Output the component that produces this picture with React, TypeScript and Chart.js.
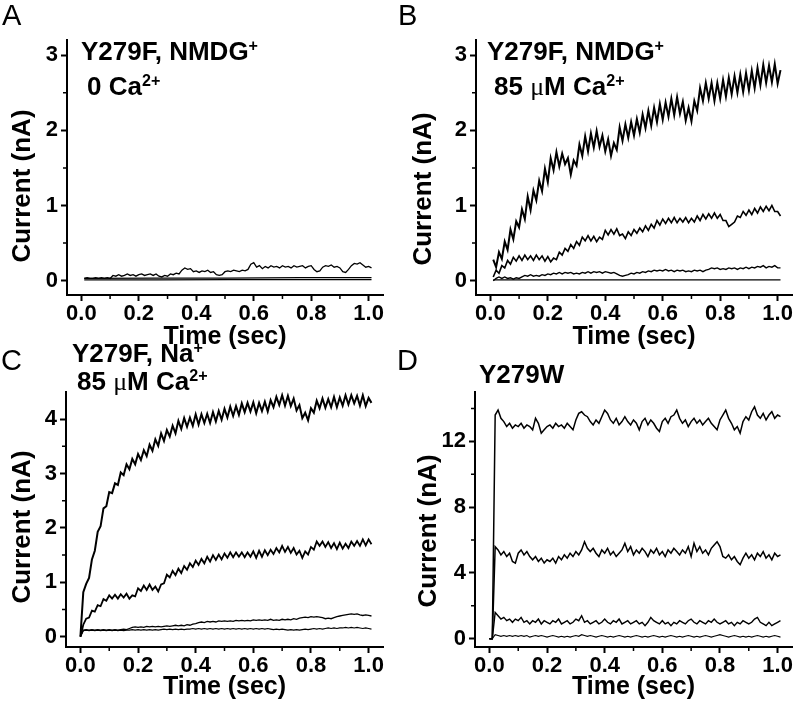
import React, { useEffect, useRef } from 'react';
import { Chart, registerables } from 'chart.js';

Chart.register(...registerables);

const FONT = "'Liberation Sans', Arial, Helvetica, sans-serif";

// ---------- data ----------
const timeSec = [
  0, 0.01, 0.02, 0.03, 0.04, 0.05, 0.06, 0.07, 0.08, 0.09,
  0.1, 0.11, 0.12, 0.13, 0.14, 0.15, 0.16, 0.17, 0.18, 0.19,
  0.2, 0.21, 0.22, 0.23, 0.24, 0.25, 0.26, 0.27, 0.28, 0.29,
  0.3, 0.31, 0.32, 0.33, 0.34, 0.35, 0.36, 0.37, 0.38, 0.39,
  0.4, 0.41, 0.42, 0.43, 0.44, 0.45, 0.46, 0.47, 0.48, 0.49,
  0.5, 0.51, 0.52, 0.53, 0.54, 0.55, 0.56, 0.57, 0.58, 0.59,
  0.6, 0.61, 0.62, 0.63, 0.64, 0.65, 0.66, 0.67, 0.68, 0.69,
  0.7, 0.71, 0.72, 0.73, 0.74, 0.75, 0.76, 0.77, 0.78, 0.79,
  0.8, 0.81, 0.82, 0.83, 0.84, 0.85, 0.86, 0.87, 0.88, 0.89,
  0.9, 0.91, 0.92, 0.93, 0.94, 0.95, 0.96, 0.97, 0.98, 0.99,
  1.0, 1.01,
];
const flatTime = [0.01, 0.26, 0.51, 0.76, 1.01];

// Panel A: Y279F, NMDG+, 0 Ca2+
const aTrace = [
  null,
  0.03, 0.04, 0.03, 0.03, 0.04, 0.03, 0.04, 0.03, 0.04, 0.03,
  0.07, 0.06, 0.08, 0.06, 0.07, 0.09, 0.07, 0.08, 0.06, 0.08,
  0.09, 0.07, 0.08, 0.09, 0.07, 0.09, 0.06, 0.05, 0.07, 0.06,
  0.09, 0.08, 0.1, 0.09, 0.14, 0.17, 0.15, 0.16, 0.12, 0.13,
  0.11, 0.13, 0.12, 0.14, 0.11, 0.12, 0.08, 0.07, 0.08, 0.12,
  0.13, 0.12, 0.14, 0.13, 0.12, 0.14, 0.13, 0.15, 0.22, 0.24,
  0.18, 0.2, 0.16, 0.19, 0.17, 0.2, 0.18, 0.19, 0.17, 0.2,
  0.18, 0.19, 0.17, 0.2, 0.18, 0.19, 0.2, 0.17, 0.19, 0.2,
  0.15, 0.12, 0.13, 0.18, 0.2, 0.19, 0.21, 0.18, 0.19, 0.17,
  0.12, 0.11, 0.15, 0.2, 0.23, 0.22, 0.24, 0.21, 0.18, 0.19, 0.17,
];
const aFlatHigh = [0.03, 0.035, 0.035, 0.04, 0.04];
const aFlatLow = [0.012, 0.012, 0.014, 0.014, 0.014];

// Panel B: Y279F, NMDG+, 85 uM Ca2+
const bTop = [
  null,
  0.28, 0.18, 0.38, 0.29, 0.52, 0.41, 0.68, 0.55, 0.79, 0.71,
  0.95, 0.82, 1.12, 0.94, 1.2, 1.07, 1.33, 1.19, 1.49, 1.31,
  1.63, 1.47, 1.71, 1.52, 1.69, 1.55, 1.63, 1.41, 1.6, 1.53,
  1.81, 1.66, 1.92, 1.72, 1.96, 1.77, 1.99, 1.78, 1.93, 1.72,
  1.88, 1.66, 1.83, 1.74, 2.04, 1.86, 2.08, 1.9, 2.11, 1.93,
  2.15, 1.97, 2.21, 2.03, 2.26, 2.06, 2.3, 2.11, 2.35, 2.14,
  2.37, 2.18, 2.42, 2.2, 2.44, 2.22, 2.38, 2.13, 2.3, 2.12,
  2.39, 2.26, 2.56, 2.39, 2.63, 2.42, 2.63, 2.39, 2.63, 2.42,
  2.67, 2.45, 2.7, 2.48, 2.72, 2.5, 2.74, 2.51, 2.76, 2.53,
  2.79, 2.56, 2.83, 2.6, 2.87, 2.63, 2.86, 2.64, 2.88, 2.62, 2.8,
];
const bMid = [
  null,
  0.05, 0.14, 0.1, 0.2, 0.17, 0.27, 0.22, 0.31, 0.26, 0.33,
  0.27, 0.34, 0.28, 0.33, 0.27, 0.34, 0.28, 0.33, 0.26, 0.32,
  0.25, 0.3, 0.28, 0.38, 0.34, 0.43, 0.39, 0.48, 0.43, 0.52,
  0.47, 0.58, 0.53, 0.6, 0.53, 0.59, 0.52, 0.58, 0.55, 0.67,
  0.61, 0.68, 0.62, 0.69, 0.6, 0.62, 0.56, 0.65, 0.6, 0.68,
  0.63, 0.7, 0.65, 0.73, 0.67, 0.75, 0.7, 0.8, 0.74, 0.82,
  0.76, 0.83, 0.77, 0.84, 0.77, 0.83, 0.78, 0.84, 0.77, 0.83,
  0.78, 0.86, 0.8, 0.88, 0.82, 0.89, 0.83, 0.9, 0.83, 0.88,
  0.8, 0.8, 0.72, 0.75, 0.78, 0.86, 0.84, 0.92, 0.87, 0.94,
  0.88, 0.96, 0.9, 0.98, 0.92, 0.99, 0.93, 1.0, 0.92, 0.92, 0.86,
];
const bLow = [
  null,
  0.0, 0.03, 0.05, 0.03, 0.05, 0.03, 0.04, 0.02, 0.04, 0.03,
  0.05, 0.07, 0.06, 0.08, 0.06, 0.07, 0.06, 0.08, 0.07, 0.09,
  0.08, 0.1, 0.09, 0.11, 0.09, 0.11, 0.1, 0.11, 0.09, 0.1,
  0.09, 0.11, 0.1, 0.12, 0.1, 0.12, 0.11, 0.12, 0.1, 0.12,
  0.11, 0.1, 0.11, 0.09, 0.07, 0.06, 0.07, 0.08, 0.1, 0.09,
  0.11, 0.1, 0.12, 0.11, 0.13, 0.12, 0.14, 0.13, 0.14, 0.13,
  0.15, 0.13, 0.14, 0.12, 0.14, 0.13, 0.14, 0.12, 0.13, 0.12,
  0.14, 0.13, 0.14, 0.12, 0.14, 0.15, 0.17, 0.16, 0.17, 0.15,
  0.16, 0.15, 0.17, 0.16, 0.17, 0.15, 0.17, 0.16, 0.18, 0.16,
  0.18, 0.17, 0.19, 0.18, 0.2, 0.17, 0.19, 0.18, 0.2, 0.17, 0.17,
];
const bBase = [0.01, 0.01, 0.01, 0.01, 0.01];

// Panel C: Y279F, Na+, 85 uM Ca2+
const cTop = [
  0,
  0.82, 0.97, 1.08, 1.42, 1.58, 1.93, 2.03, 2.36, 2.4, 2.66,
  2.64, 2.82, 2.79, 3.02, 2.97, 3.17, 3.08, 3.27, 3.17, 3.36,
  3.25, 3.43, 3.32, 3.53, 3.42, 3.63, 3.51, 3.74, 3.6, 3.8,
  3.68, 3.88, 3.74, 3.97, 3.82, 4.02, 3.86, 4.03, 3.88, 4.09,
  3.9, 4.09, 3.93, 4.1, 3.93, 4.13, 3.96, 4.15, 3.99, 4.19,
  4.03, 4.23, 4.06, 4.24, 4.08, 4.29, 4.13, 4.3, 4.14, 4.31,
  4.11, 4.3, 4.15, 4.32, 4.14, 4.35, 4.22, 4.41, 4.26, 4.44,
  4.25, 4.43, 4.24, 4.38, 4.16, 4.26, 4.02, 4.12, 3.98, 4.2,
  4.12, 4.34, 4.2, 4.38, 4.21, 4.37, 4.22, 4.41, 4.22, 4.4,
  4.25, 4.44, 4.27, 4.44, 4.29, 4.43, 4.25, 4.44, 4.24, 4.39, 4.3,
];
const cMid = [
  0,
  0.22, 0.33, 0.35, 0.48, 0.46, 0.58, 0.56, 0.69, 0.66, 0.76,
  0.7, 0.77, 0.7, 0.78, 0.72, 0.79, 0.7, 0.76, 0.74, 0.89,
  0.84, 0.94, 0.86, 0.96, 0.86, 0.92, 0.83, 0.96, 0.98, 1.14,
  1.09, 1.21, 1.13, 1.25, 1.17, 1.3, 1.23, 1.35, 1.28, 1.4,
  1.32, 1.43, 1.35, 1.47, 1.38, 1.5, 1.41, 1.51, 1.42, 1.53,
  1.45, 1.55, 1.46, 1.55, 1.47, 1.55, 1.46, 1.55, 1.47, 1.57,
  1.45, 1.58, 1.47, 1.59, 1.5, 1.6, 1.52, 1.63, 1.55, 1.67,
  1.56, 1.65, 1.54, 1.63, 1.51, 1.58, 1.45, 1.57, 1.51, 1.65,
  1.6, 1.75, 1.67, 1.75, 1.65, 1.74, 1.63, 1.72, 1.61, 1.73,
  1.62, 1.71, 1.63, 1.75, 1.67, 1.76, 1.67, 1.79, 1.68, 1.79, 1.7,
];
const cLowRising = [
  0,
  0.12, 0.13, 0.12, 0.13, 0.12, 0.13, 0.12, 0.13, 0.12, 0.13,
  0.12, 0.13, 0.12, 0.13, 0.14, 0.13, 0.15, 0.17, 0.18, 0.17,
  0.18, 0.17, 0.19, 0.18, 0.19, 0.18, 0.19, 0.18, 0.19, 0.2,
  0.19, 0.2, 0.21, 0.2, 0.21, 0.2, 0.22, 0.21, 0.23, 0.24,
  0.26, 0.27, 0.26, 0.28, 0.27, 0.28, 0.27, 0.29, 0.28, 0.29,
  0.28, 0.29, 0.28, 0.3, 0.29, 0.3, 0.29, 0.3, 0.29, 0.31,
  0.3, 0.31, 0.3, 0.31, 0.3, 0.32, 0.3, 0.31, 0.3, 0.32,
  0.31, 0.32, 0.31, 0.33, 0.32, 0.34, 0.35, 0.36, 0.35, 0.37,
  0.36, 0.37, 0.36, 0.35, 0.33, 0.34, 0.33, 0.35, 0.37, 0.38,
  0.39, 0.4, 0.41, 0.42, 0.41, 0.42, 0.4, 0.39, 0.4, 0.39, 0.38,
];
const cLowFlat = [
  0,
  0.11, 0.12, 0.11, 0.12, 0.11, 0.12, 0.11, 0.12, 0.11, 0.12,
  0.11, 0.12, 0.11, 0.12, 0.11, 0.12, 0.12, 0.13, 0.12, 0.13,
  0.12, 0.13, 0.12, 0.13, 0.12, 0.13, 0.12, 0.13, 0.14, 0.13,
  0.14, 0.13, 0.14, 0.13, 0.14, 0.13, 0.14, 0.14, 0.15, 0.14,
  0.15, 0.14, 0.15, 0.14, 0.15, 0.14, 0.15, 0.14, 0.15, 0.14,
  0.15, 0.14, 0.15, 0.14, 0.15, 0.14, 0.15, 0.14, 0.15, 0.14,
  0.15, 0.14, 0.15, 0.14, 0.15, 0.14, 0.13, 0.14, 0.13, 0.14,
  0.13, 0.12, 0.13, 0.12, 0.13, 0.12, 0.13, 0.14, 0.13, 0.14,
  0.15, 0.14, 0.15, 0.14, 0.15, 0.16, 0.15, 0.16, 0.15, 0.16,
  0.16, 0.17, 0.16, 0.17, 0.16, 0.17, 0.16, 0.15, 0.16, 0.15, 0.14,
];

// Panel D: Y279W
const dTop = [
  0, 0,
  13.6, 13.9, 13.4, 13.2, 12.9, 13.1, 12.8, 13.0, 12.9, 13.1,
  12.8, 13.0, 12.9, 12.7, 13.4, 13.1, 12.5, 12.7, 12.9, 13.0,
  12.8, 13.1, 12.9, 13.0, 12.8, 13.1, 12.9, 12.7, 13.3, 13.7,
  13.8, 13.6, 13.5, 13.2, 13.0, 13.3, 13.1, 13.5, 13.9, 13.7,
  13.3, 13.1, 13.4, 13.0, 13.2, 13.5, 13.2, 13.0, 13.3, 13.1,
  12.7, 13.2, 13.4, 13.0, 13.3, 13.1, 12.8, 12.6, 13.2, 13.4,
  13.1, 13.5, 13.6, 13.9, 13.4, 13.1, 13.3, 12.9, 13.2, 13.4,
  13.1, 13.3, 13.0, 13.2, 13.4, 13.1, 12.9, 12.7, 13.3, 13.6,
  13.9, 13.4, 13.1, 12.7, 12.9, 12.5, 13.2, 13.5, 13.3, 13.8,
  14.1, 13.6, 13.4, 13.7, 13.3, 13.6, 13.8, 13.4, 13.6, 13.5,
];
const dMid = [
  0, 0,
  5.6, 5.4, 5.1, 5.3, 5.0, 5.2, 4.7, 4.6, 5.2, 5.4,
  5.1, 5.3, 5.0, 4.8, 5.0, 4.7, 4.9, 4.6, 4.8, 4.7,
  4.9, 4.6, 5.0, 4.8, 5.1, 4.9, 5.2, 5.0, 5.3, 5.1,
  5.4, 5.9, 5.5, 5.3, 5.5, 5.2, 5.0, 5.4, 5.2, 5.5,
  5.1, 5.3, 5.0, 5.2, 5.4, 5.8, 5.3, 5.6, 5.1, 5.4,
  5.2, 5.5, 5.3, 5.0, 5.4, 5.2, 5.5, 5.1, 5.3, 5.0,
  5.4, 5.2, 5.5, 5.3, 5.1, 5.4, 5.2, 5.6, 5.0, 5.8,
  5.3, 5.6, 5.2, 5.4, 5.1, 5.5, 5.7, 5.9, 5.6, 5.0,
  4.9, 5.1, 4.8, 5.0, 4.7, 4.5, 4.9, 5.2, 4.9, 5.1,
  4.8, 5.2, 5.0, 5.3, 4.9, 5.1, 4.8, 5.2, 5.0, 5.1,
];
const dLow = [
  0, 0,
  1.6, 1.4, 1.2, 1.3, 1.1, 1.2, 1.0, 1.2, 1.1, 1.3,
  1.0, 1.1, 0.9, 1.1, 1.0, 1.2, 0.9, 1.1, 1.0, 0.9,
  1.1, 1.0, 1.2, 0.9, 1.0, 1.1, 0.9, 1.0, 1.2, 1.1,
  1.4, 1.0, 1.1, 0.9, 1.0, 1.1, 0.9, 1.0, 1.2, 1.0,
  0.9, 1.1, 1.0, 1.2, 0.9, 1.0, 1.1, 0.9, 1.0, 1.1,
  0.9, 1.0, 0.8, 1.0, 1.3, 1.1, 1.0, 0.9, 1.1, 0.9,
  1.0, 0.8, 1.0, 0.9, 1.1, 1.0, 0.9, 1.1, 1.2, 1.0,
  0.9, 1.1, 1.0, 0.9, 1.1, 1.0, 1.2, 1.0, 0.9, 1.0,
  1.1, 0.9, 1.0, 0.8, 1.0, 0.9, 1.1, 1.0, 0.9, 1.0,
  1.2, 1.3, 1.0, 0.9, 0.8, 1.0, 0.8, 0.9, 1.0, 1.1,
];
const dBase = [
  0, 0,
  0.25, 0.2, 0.15, 0.2, 0.15, 0.2, 0.15, 0.2, 0.15, 0.2,
  0.15, 0.2, 0.1, 0.15, 0.2, 0.15, 0.2, 0.15, 0.1, 0.15,
  0.2, 0.15, 0.1, 0.15, 0.1, 0.15, 0.1, 0.15, 0.2, 0.15,
  0.25, 0.2, 0.15, 0.2, 0.15, 0.1, 0.15, 0.2, 0.15, 0.1,
  0.15, 0.1, 0.15, 0.2, 0.15, 0.1, 0.15, 0.1, 0.15, 0.2,
  0.15, 0.1, 0.15, 0.1, 0.15, 0.2, 0.15, 0.1, 0.15, 0.1,
  0.15, 0.2, 0.15, 0.1, 0.15, 0.1, 0.15, 0.2, 0.15, 0.1,
  0.15, 0.1, 0.15, 0.2, 0.15, 0.1, 0.15, 0.2, 0.25, 0.2,
  0.15, 0.1, 0.15, 0.2, 0.15, 0.1, 0.15, 0.1, 0.15, 0.1,
  0.15, 0.2, 0.15, 0.1, 0.15, 0.1, 0.15, 0.2, 0.15, 0.1,
];

// ---------- ticks ----------
const xMajorTicks = [0, 0.2, 0.4, 0.6, 0.8, 1.0];
const xMinorTicks = [0.1, 0.3, 0.5, 0.7, 0.9];
const yTicksAB = [0, 1, 2, 3];
const yMinorAB = [0.5, 1.5, 2.5];
const yTicksC = [0, 1, 2, 3, 4];
const yMinorC = [0.5, 1.5, 2.5, 3.5];
const yTicksD = [0, 4, 8, 12];
const yMinorD = [2, 6, 10, 14];

type Pt = { x: number; y: number | null };
const toPoints = (t: number[], v: (number | null)[]): Pt[] => v.map((y, i) => ({ x: t[i], y }));

const minorTickPlugin = {
  id: 'minorTicks',
  afterDraw(chart: any, _args: any, opts: any) {
    const ctx = chart.ctx;
    const xs = chart.scales.x;
    const ys = chart.scales.y;
    ctx.save();
    ctx.strokeStyle = '#000';
    ctx.lineWidth = 1.5;
    ctx.beginPath();
    (opts.x || []).forEach((v: number) => {
      const px = xs.getPixelForValue(v);
      ctx.moveTo(px, xs.top);
      ctx.lineTo(px, xs.top + 4);
    });
    (opts.y || []).forEach((v: number) => {
      const py = ys.getPixelForValue(v);
      ctx.moveTo(ys.right, py);
      ctx.lineTo(ys.right - 4, py);
    });
    ctx.stroke();
    ctx.restore();
  },
};

type PanelCfg = {
  left: number; top: number; w: number; h: number;
  padTop: number; padRight: number; yW: number; xH: number;
  yMin: number; yMax: number; yTicks: number[]; yMinor: number[];
  titlePad: number; series: Pt[][]; widths: number[];
};

const panels: PanelCfg[] = [
  {
    left: 0, top: 0, w: 398, h: 352, padTop: 40, padRight: 15, yW: 67, xH: 57,
    yMin: -0.19, yMax: 3.2, yTicks: yTicksAB, yMinor: yMinorAB, titlePad: 0,
    series: [toPoints(flatTime, aFlatLow), toPoints(flatTime, aFlatHigh), toPoints(timeSec, aTrace)],
    widths: [1.2, 1.2, 1.3],
  },
  {
    left: 398, top: 0, w: 398, h: 352, padTop: 40, padRight: 4, yW: 78, xH: 57,
    yMin: -0.19, yMax: 3.2, yTicks: yTicksAB, yMinor: yMinorAB, titlePad: 0,
    series: [toPoints(flatTime, bBase), toPoints(timeSec, bLow), toPoints(timeSec, bMid), toPoints(timeSec, bTop)],
    widths: [1.2, 1.4, 1.6, 2.0],
  },
  {
    left: 0, top: 340, w: 398, h: 365, padTop: 52, padRight: 15, yW: 66, xH: 58,
    yMin: -0.19, yMax: 4.5, yTicks: yTicksC, yMinor: yMinorC, titlePad: 3,
    series: [toPoints(timeSec, cLowFlat), toPoints(timeSec, cLowRising), toPoints(timeSec, cMid), toPoints(timeSec, cTop)],
    widths: [1.2, 1.3, 1.8, 2.0],
  },
  {
    left: 398, top: 340, w: 398, h: 365, padTop: 52, padRight: 4, yW: 77, xH: 58,
    yMin: -0.5, yMax: 15, yTicks: yTicksD, yMinor: yMinorD, titlePad: 3,
    series: [toPoints(timeSec, dBase), toPoints(timeSec, dLow), toPoints(timeSec, dMid), toPoints(timeSec, dTop)],
    widths: [1.1, 1.4, 1.5, 1.5],
  },
];

function Panel({ cfg }: { cfg: PanelCfg }) {
  const ref = useRef<HTMLCanvasElement>(null);
  useEffect(() => {
    const tickFont = { family: FONT, size: 22, weight: 'bold' as const };
    const gridOpts = { display: true, drawOnChartArea: false, drawTicks: true, tickLength: 6, tickWidth: 2, tickColor: '#000' };
    const chart = new Chart(ref.current as HTMLCanvasElement, {
      type: 'line',
      data: {
        datasets: cfg.series.map((s, i) => ({
          data: s as any,
          borderColor: '#000',
          borderWidth: cfg.widths[i],
          pointRadius: 0,
          tension: 0,
          fill: false,
          spanGaps: false,
          borderJoinStyle: 'miter' as const,
        })),
      },
      options: {
        responsive: false,
        maintainAspectRatio: false,
        animation: false,
        events: [],
        layout: { padding: { top: cfg.padTop, right: cfg.padRight, left: 0, bottom: 0 } },
        plugins: {
          legend: { display: false },
          tooltip: { enabled: false },
          minorTicks: { x: xMinorTicks, y: cfg.yMinor },
        } as any,
        scales: {
          x: {
            type: 'linear',
            min: -0.05,
            max: 1.05,
            afterFit: (s: any) => { s.height = cfg.xH; },
            afterBuildTicks: (s: any) => { s.ticks = xMajorTicks.map((v) => ({ value: v })); },
            ticks: {
              callback: (v: any) => Number(v).toFixed(1),
              font: tickFont, color: '#000', padding: 0, maxRotation: 0, autoSkip: false,
            },
            grid: gridOpts,
            border: { display: true, color: '#000', width: 2 },
            title: {
              display: true, text: 'Time (sec)', color: '#000',
              font: { family: FONT, size: 25, weight: 'bold' },
              padding: { top: 0, bottom: cfg.titlePad },
            },
          },
          y: {
            type: 'linear',
            min: cfg.yMin,
            max: cfg.yMax,
            afterFit: (s: any) => { s.width = cfg.yW; },
            afterBuildTicks: (s: any) => { s.ticks = cfg.yTicks.map((v) => ({ value: v })); },
            ticks: {
              callback: (v: any) => String(Number(v)),
              font: tickFont, color: '#000', padding: 3, autoSkip: false,
            },
            grid: gridOpts,
            border: { display: true, color: '#000', width: 2 },
          },
        },
      } as any,
      plugins: [minorTickPlugin],
    });
    return () => chart.destroy();
  }, [cfg]);
  return (
    <canvas
      ref={ref}
      width={cfg.w}
      height={cfg.h}
      style={{ position: 'absolute', left: cfg.left, top: cfg.top, width: cfg.w, height: cfg.h }}
    />
  );
}

const sup = (t: string) => (
  <span style={{ fontSize: '0.62em', verticalAlign: '0.55em', lineHeight: 0 }}>{t}</span>
);
const mu = <span style={{ fontWeight: 'normal', fontFamily: "'Liberation Serif', 'DejaVu Serif', serif" }}>μ</span>;

const textBase: React.CSSProperties = {
  position: 'absolute', fontFamily: FONT, fontWeight: 'bold', fontSize: 26,
  lineHeight: 1, whiteSpace: 'nowrap', color: '#000',
};
const letterBase: React.CSSProperties = {
  position: 'absolute', fontFamily: FONT, fontWeight: 'normal', fontSize: 29,
  lineHeight: 1, whiteSpace: 'nowrap', color: '#000',
};
const yTitle = (cx: number, cy: number) => (
  <div
    style={{
      ...textBase, left: cx, top: cy,
      transform: 'translate(-50%, -50%) rotate(-90deg)',
    }}
  >
    Current (nA)
  </div>
);

export default function App() {
  return (
    <div style={{ position: 'absolute', left: 0, top: 0, width: 796, height: 705, background: '#fff', overflow: 'hidden' }}>
      {panels.map((p, i) => (
        <Panel key={i} cfg={p} />
      ))}
      <div style={{ ...letterBase, left: 2, top: 1 }}>A</div>
      <div style={{ ...letterBase, left: 398, top: 1 }}>B</div>
      <div style={{ ...letterBase, left: 1, top: 346 }}>C</div>
      <div style={{ ...letterBase, left: 397, top: 346 }}>D</div>

      <div style={{ ...textBase, left: 81, top: 38 }}>Y279F, NMDG{sup('+')}</div>
      <div style={{ ...textBase, left: 87, top: 73 }}>0 Ca{sup('2+')}</div>
      <div style={{ ...textBase, left: 487, top: 38 }}>Y279F, NMDG{sup('+')}</div>
      <div style={{ ...textBase, left: 494, top: 73 }}>85 {mu}M Ca{sup('2+')}</div>
      <div style={{ ...textBase, left: 72, top: 340 }}>Y279F, Na{sup('+')}</div>
      <div style={{ ...textBase, left: 77, top: 368 }}>85 {mu}M Ca{sup('2+')}</div>
      <div style={{ ...textBase, left: 479, top: 361 }}>Y279W</div>

      {yTitle(21, 186)}
      {yTitle(422, 189)}
      {yTitle(21, 527)}
      {yTitle(427, 531)}
    </div>
  );
}
